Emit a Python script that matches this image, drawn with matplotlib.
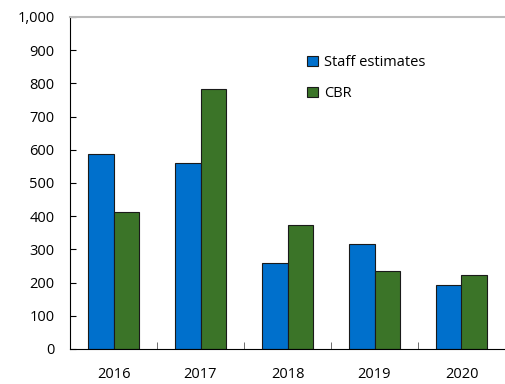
import numpy as np
import matplotlib.pyplot as plt
from matplotlib.ticker import FuncFormatter

years = ['2016', '2017', '2018', '2019', '2020']
staff = [587, 560, 259, 316, 193]
cbr = [412, 783, 373, 235, 222]

plt.rcParams['font.family'] = ['Open Sans', 'DejaVu Sans']

fig = plt.figure(figsize=(5.05, 3.84), dpi=100)
ax = fig.add_axes([70 / 505, 35 / 384, 435 / 505, 332 / 384])

x = np.arange(len(years))
w = 0.29
ax.bar(x - w / 2, staff, w, color='#0070CC', edgecolor='#1a1a1a', linewidth=0.8,
       label='Staff estimates')
ax.bar(x + w / 2, cbr, w, color='#3B7428', edgecolor='#1a1a1a', linewidth=0.8,
       label='CBR')

ax.set_xlim(-0.5, 4.5)
ax.set_ylim(0, 1000)
ax.set_yticks(np.arange(0, 1001, 100))
ax.yaxis.set_major_formatter(FuncFormatter(lambda v, p: '{:,.0f}'.format(v)))
ax.set_xticks(x)
ax.set_xticklabels(years)
ax.set_xticks(x[:-1] + 0.5, minor=True)
ax.tick_params(axis='x', which='major', length=0, pad=13, labelsize=10.5)
ax.tick_params(axis='x', which='minor', direction='in', length=5, color='#555555')
ax.tick_params(axis='y', direction='in', length=4, labelsize=10.5, pad=11)

ax.spines['right'].set_visible(False)
ax.spines['top'].set_color('#bbbbbb')
ax.spines['top'].set_linewidth(1.5)
ax.spines['left'].set_color('black')
ax.spines['bottom'].set_color('black')

ax.legend(loc='upper left', bbox_to_anchor=(0.515, 0.925), frameon=False,
          fontsize=10.5, handlelength=0.75, handleheight=0.75,
          handletextpad=0.4, labelspacing=1.1)

fig.savefig('out.png', dpi=100)
